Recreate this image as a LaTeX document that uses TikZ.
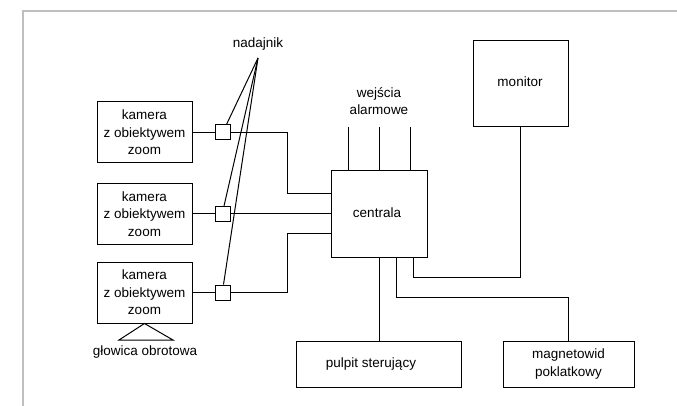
\documentclass[tikz,border=0pt]{standalone}
\usepackage{fontspec}
\setmainfont{Liberation Sans}
\begin{document}
\begin{tikzpicture}[x=1pt,y=-1pt,
  every node/.style={font=\fontsize{13.5}{17.5}\selectfont, align=center, inner sep=0pt},
  box/.style={draw, line width=1pt},
  tx/.style={draw, line width=1pt, fill=white, minimum width=15pt, minimum height=15pt},
  wire/.style={line width=1pt},
  frame/.style={draw=black!25, line width=1.3pt}]
\useasboundingbox (0,0) rectangle (677,406);
\draw[frame] (23,406) -- (23,11) -- (677,11);
% cameras
\node[box, minimum width=95pt, minimum height=61pt] (cam1) at (144.5,132.5) {kamera\\z obiektywem\\zoom};
\node[box, minimum width=95pt, minimum height=60pt] (cam2) at (144.5,214) {kamera\\z obiektywem\\zoom};
\node[box, minimum width=95pt, minimum height=61pt] (cam3) at (144.5,292.5) {kamera\\z obiektywem\\zoom};
% transmitters
\node[tx] (tx1) at (222.5,132.5) {};
\node[tx] (tx2) at (222.5,214) {};
\node[tx] (tx3) at (222.5,292.5) {};
\node (nad) at (258,44) {nadajnik};
\coordinate (apex) at (258,58);
% central
\node[box, minimum width=96pt, minimum height=86pt] (cen) at (379,214) {};
\node (cenl) at (377,213) {centrala};
\node[box, minimum width=95pt, minimum height=86pt] (mon) at (520.5,84) {};
\node (monl) at (520,82) {monitor};
\node[box, minimum width=165pt, minimum height=46pt] (pul) at (379,364) {};
\node (pull) at (371,364) {pulpit sterujący};
\node[box, minimum width=131pt, minimum height=46pt] (mag) at (568.5,364) {magnetowid\\poklatkowy};
\node (alarm) at (379,101) {wejścia\\alarmowe};
\node (glow) at (145,352) {głowica obrotowa};
% coordinates
\coordinate (j1) at (287,194);
\coordinate (j3) at (287,233);
\coordinate (a1) at (348,127);
\coordinate (a2) at (379,127);
\coordinate (a3) at (410,127);
\coordinate (m1) at (413,277);
\coordinate (g1) at (396,297);
\coordinate (t1) at (119,340);
\coordinate (t2) at (173,340);
% wires
\draw[wire] (cam1.east) -- (tx1.west);
\draw[wire] (cam2.east) -- (tx2.west);
\draw[wire] (cam3.east) -- (tx3.west);
\draw[wire] (tx1.east) -| (j1) -- (j1 -| cen.west);
\draw[wire] (tx2.east) -- (tx2.east -| cen.west);
\draw[wire] (tx3.east) -| (j3) -- (j3 -| cen.west);
\draw[wire] (apex) -- ([xshift=4pt]tx1.north);
\draw[wire] (apex) -- ([xshift=1.5pt]tx2.north);
\draw[wire] (apex) -- ([xshift=1pt]tx3.north);
\draw[wire] (a1) -- (a1 |- cen.north);
\draw[wire] (a2) -- (a2 |- cen.north);
\draw[wire] (a3) -- (a3 |- cen.north);
\draw[wire] (cen.south) -- (pul.north);
\draw[wire] (m1 |- cen.south) -- (m1) -| (mon.south);
\draw[wire] (g1 |- cen.south) -- (g1) -| (mag.north);
\draw[wire] (cam3.south) -- (t1) -- (t2) -- cycle;
\end{tikzpicture}
\end{document}
